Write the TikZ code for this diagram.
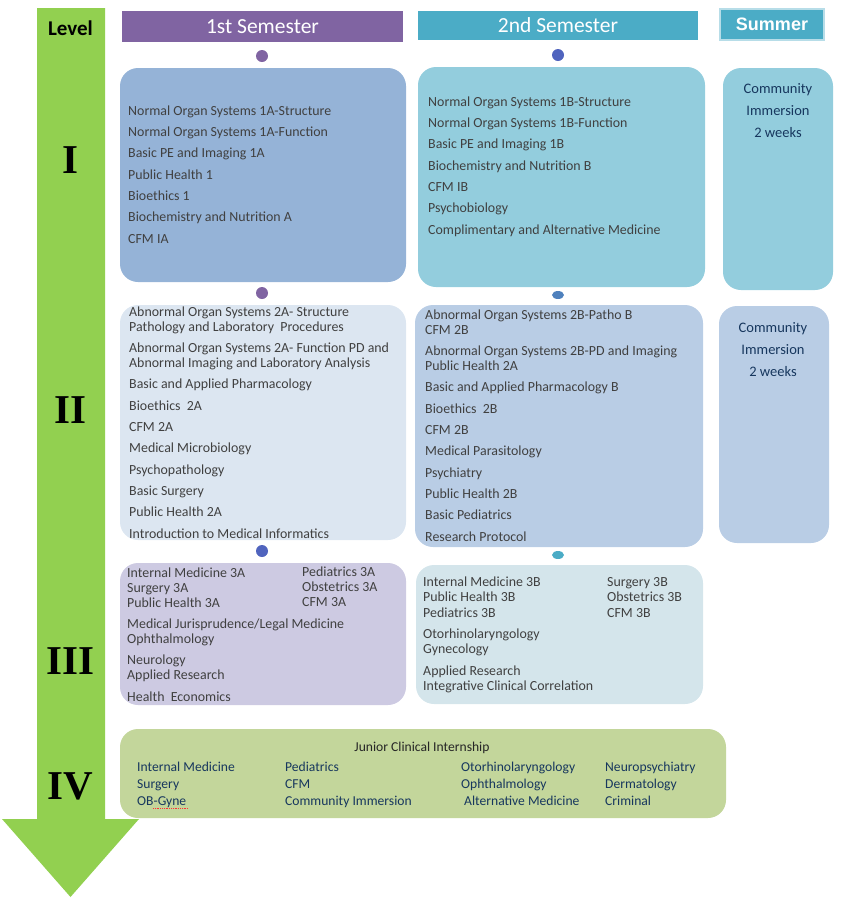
\documentclass[tikz,border=0pt]{standalone}
\usepackage{fontspec}
\setmainfont{Carlito}
\newfontfamily\romanfont{Liberation Serif}
\newfontfamily\arialfont{Liberation Sans}
\usetikzlibrary{positioning, shapes.geometric}
\definecolor{levelgreen}{HTML}{92D050}
\definecolor{sempurple}{HTML}{8064A2}
\definecolor{semteal}{HTML}{4BACC6}
\definecolor{sumborder}{HTML}{B7DDE8}
\definecolor{boxblue}{HTML}{95B3D7}
\definecolor{boxteal}{HTML}{93CDDD}
\definecolor{boxpale}{HTML}{DCE6F1}
\definecolor{boxsteel}{HTML}{B9CDE5}
\definecolor{boxlilac}{HTML}{CDCAE2}
\definecolor{boxmist}{HTML}{D4E5EB}
\definecolor{boxolive}{HTML}{C3D69B}
\definecolor{coursegray}{HTML}{404040}
\definecolor{navytext}{HTML}{17375E}
\definecolor{dotblue}{HTML}{5064BE}
\definecolor{dotsky}{HTML}{4F81BD}

\begin{document}
\begin{tikzpicture}[x=1pt, y=-1pt,
  semhead/.style={rectangle, text=white, inner sep=0pt,
                  font=\fontsize{21.5}{24}\selectfont},
  coursebox/.style={rectangle, rounded corners=18pt, draw=none, inner sep=0pt},
  courselist/.style={anchor=base west, align=left, inner sep=0pt, text=coursegray,
                     font=\fontsize{13.9}{21.3}\selectfont},
  clinlist/.style={anchor=base west, align=left, inner sep=0pt, text=navytext,
                   font=\fontsize{13.6}{17}\selectfont},
  sumtext/.style={align=center, inner sep=0pt, text=navytext,
                  font=\fontsize{14.5}{22}\selectfont},
  levelnum/.style={inner sep=0pt, font=\fontsize{41}{41}\romanfont\bfseries},
  dot/.style={ellipse, inner sep=0pt, minimum width=12pt, minimum height=12pt},
  flatdot/.style={ellipse, inner sep=0pt, minimum width=12pt, minimum height=8pt}
]
\useasboundingbox (0,0) rectangle (854,906);

% -------- LEVEL ARROW --------
\fill[levelgreen] (37,8) -- (105,8) -- (105,819) -- (139,819) -- (70.5,897)
  -- (2,819) -- (37,819) -- cycle;
\node[font=\fontsize{21}{24}\selectfont\bfseries] (level) at (70.5,28) {Level};
\node[levelnum] (lv1) at (70.5,160) {I};
\node[levelnum] (lv2) at (70.5,410) {II};
\node[levelnum] (lv3) at (70.5,661) {III};
\node[levelnum] (lv4) at (70.5,786) {IV};

% -------- HEADERS --------
\node[semhead, fill=sempurple, minimum width=281pt, minimum height=31pt] (sem1) at (262.5,26.5) {1st Semester};
\node[semhead, fill=semteal, minimum width=280pt, minimum height=29pt] (sem2) at (558,25.5) {2nd Semester};
\node[semhead, fill=semteal, draw=sumborder, line width=1.5pt, minimum width=104pt, minimum height=31pt,
      font=\fontsize{18}{20}\arialfont\bfseries] (summer) at (772,24.5) {Summer};

% -------- DOTS --------
\node[dot, fill=sempurple] (d1a) at (262,56) {};
\node[dot, fill=sempurple] (d2a) at (262,293) {};
\node[dot, fill=dotblue] (d3a) at (262,551) {};
\node[dot, fill=dotblue] (d1b) at (558,55) {};
\node[flatdot, fill=dotsky] (d2b) at (558,295) {};
\node[flatdot, fill=semteal] (d3b) at (558,555) {};

% -------- LEVEL I --------
\node[coursebox, fill=boxblue, minimum width=286pt, minimum height=214pt] (box1a) at (263,175) {};
\node[coursebox, fill=boxteal, minimum width=287pt, minimum height=220pt] (box1b) at (561.5,177) {};
\node[coursebox, fill=boxteal, minimum width=110pt, minimum height=222pt] (sum1) at (778,179) {};
\node[courselist] (txt1a) at (128,243) {Normal Organ Systems 1A-Structure\\
  Normal Organ Systems 1A-Function\\ Basic PE and Imaging 1A\\ Public Health 1\\
  Bioethics 1\\ Biochemistry and Nutrition A\\ CFM IA};
\node[courselist] (txt1b) at (428,234) {Normal Organ Systems 1B-Structure\\
  Normal Organ Systems 1B-Function\\ Basic PE and Imaging 1B\\ Biochemistry and Nutrition B\\
  CFM IB\\ Psychobiology\\ Complimentary and Alternative Medicine};
\node[sumtext] (stxt1) at (778,111) {Community\\ Immersion\\ 2 weeks};

% -------- LEVEL II --------
\node[coursebox, fill=boxpale, minimum width=286pt, minimum height=235pt] (box2a) at (263,422.5) {};
\node[coursebox, fill=boxsteel, minimum width=288pt, minimum height=242pt] (box2b) at (559,426) {};
\node[coursebox, fill=boxsteel, minimum width=110pt, minimum height=237pt] (sum2) at (774,424.5) {};
\node[courselist] (txt2a) at (129,538) {Abnormal Organ Systems 2A- Structure\\[-6.3pt]
  Pathology and Laboratory~ Procedures\\
  Abnormal Organ Systems 2A- Function PD and\\[-6.3pt]
  Abnormal Imaging and Laboratory Analysis\\
  Basic and Applied Pharmacology\\ Bioethics~ 2A\\ CFM 2A\\ Medical Microbiology\\
  Psychopathology\\ Basic Surgery\\ Public Health 2A\\ Introduction to Medical Informatics};
\node[courselist] (txt2b) at (425,541) {Abnormal Organ Systems 2B-Patho B\\[-6.3pt]
  CFM 2B\\
  Abnormal Organ Systems 2B-PD and Imaging\\[-6.3pt]
  Public Health 2A\\
  Basic and Applied Pharmacology B\\ Bioethics~ 2B\\ CFM 2B\\ Medical Parasitology\\
  Psychiatry\\ Public Health 2B\\ Basic Pediatrics\\ Research Protocol};
\node[sumtext] (stxt2) at (773,349.5) {Community\\ Immersion\\ 2 weeks};

% -------- LEVEL III --------
\node[coursebox, fill=boxlilac, minimum width=286pt, minimum height=142pt] (box3a) at (263,634) {};
\node[coursebox, fill=boxmist, minimum width=287pt, minimum height=139pt] (box3b) at (559.5,634.5) {};
\node[courselist] (txt3a) at (127,701) {Internal Medicine 3A\\[-6.3pt] Surgery 3A\\[-6.3pt]
  Public Health 3A\\ Medical Jurisprudence/Legal Medicine\\[-6.3pt] Ophthalmology\\
  Neurology\\[-6.3pt] Applied Research\\ Health~ Economics};
\node[courselist] (col3a) at (302,606) {Pediatrics 3A\\[-6.3pt] Obstetrics 3A\\[-6.3pt] CFM 3A};
\node[courselist] (txt3b) at (423,690) {Internal Medicine 3B\\[-6.3pt] Public Health 3B\\[-5.8pt]
  Pediatrics 3B\\ Otorhinolaryngology\\[-6.3pt] Gynecology\\
  Applied Research\\[-6.3pt] Integrative Clinical Correlation};
\node[courselist] (col3b) at (607,617) {Surgery 3B\\[-6.3pt] Obstetrics 3B\\[-5.8pt] CFM 3B};

% -------- LEVEL IV --------
\node[coursebox, fill=boxolive, minimum width=606pt, minimum height=89pt] (box4) at (423,773.5) {};
\node[font=\fontsize{13.6}{17}\selectfont, text=black!85, inner sep=0pt] (jci) at (422,748) {Junior Clinical Internship};
\node[clinlist] (c4a) at (137,805) {Internal Medicine\\ Surgery\\ OB-Gyne};
\node[clinlist] (c4b) at (285,805) {Pediatrics\\ CFM\\ Community Immersion};
\node[clinlist] (c4c) at (461,805) {Otorhinolaryngology\\ Ophthalmology\\ \hspace{3pt}Alternative Medicine};
\node[clinlist] (c4d) at (605,805) {Neuropsychiatry\\ Dermatology\\ Criminal};
\draw[red!80, densely dotted, line width=0.8pt] (153,808) -- (188,808);

\end{tikzpicture}
\end{document}
